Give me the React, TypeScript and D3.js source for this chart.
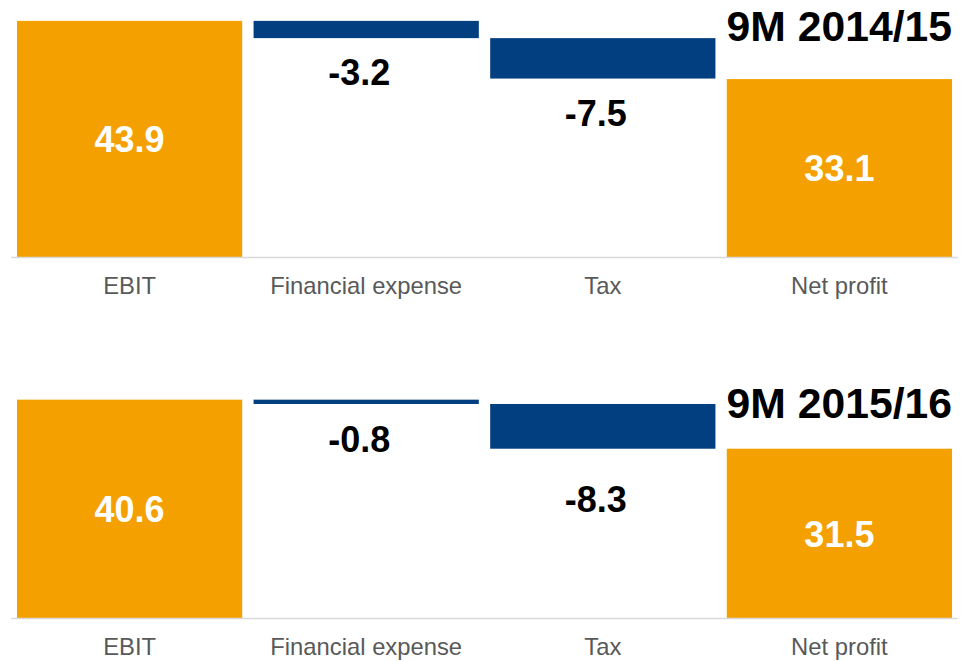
import React from "react";
import * as d3 from "d3";

const categories = ["EBIT", "Financial expense", "Tax", "Net profit"];
const titles = ["9M 2014/15", "9M 2015/16"];
const values2014 = [43.9, -3.2, -7.5, 33.1];
const values2015 = [40.6, -0.8, -8.3, 31.5];
const kinds = ["total", "delta", "delta", "total"];

const series = [values2014, values2015];

// layout / style (not data)
const W = 969;
const H = 661;
const ORANGE = "#F4A000";
const NAVY = "#023F80";
const FONT = "'Liberation Sans', Arial, Helvetica, sans-serif";
const baselines = [257.5, 618.5];
const titleY = [41, 418];
const pxPerUnit = 5.39;
const negGap = [[47, 47], [48, 63]];

export default function App() {
  const x = d3
    .scaleBand<string>()
    .domain(categories)
    .range([11.3, 957.7])
    .paddingInner(0.048)
    .paddingOuter(0.024);

  return (
    <svg
      width={W}
      height={H}
      style={{ position: "absolute", left: 0, top: 0, background: "#fff" }}
    >
      {series.map((vals, p) => {
        const base = baselines[p];
        const y = d3
          .scaleLinear()
          .domain([0, 45])
          .range([base, base - 45 * pxPerUnit]);
        let running = 0;
        const bars = vals.map((v, i) => {
          let y0: number, y1: number;
          if (kinds[i] === "total") {
            y0 = 0;
            y1 = v;
            running = v;
          } else {
            y0 = running + v;
            y1 = running;
            running = running + v;
          }
          return { v, i, lo: Math.min(y0, y1), hi: Math.max(y0, y1) };
        });
        let negIdx = 0;
        return (
          <g key={p}>
            {bars.map((b) => {
              const bx = x(categories[b.i])!;
              const bw = x.bandwidth();
              const top = y(b.hi);
              const bottom = y(b.lo);
              const isTotal = kinds[b.i] === "total";
              let label;
              if (isTotal) {
                label = (
                  <text
                    x={bx + bw / 2}
                    y={(top + bottom) / 2 + 13}
                    textAnchor="middle"
                    fill="#fff"
                    fontFamily={FONT}
                    fontWeight="bold"
                    fontSize={36}
                  >
                    {b.v.toFixed(1)}
                  </text>
                );
              } else {
                const gap = negGap[p][negIdx++];
                label = (
                  <text
                    x={bx + bw / 2 - 7}
                    y={bottom + gap}
                    textAnchor="middle"
                    fill="#000"
                    fontFamily={FONT}
                    fontWeight="bold"
                    fontSize={36}
                  >
                    {b.v.toFixed(1)}
                  </text>
                );
              }
              return (
                <g key={b.i}>
                  <rect
                    x={bx}
                    y={top}
                    width={bw}
                    height={bottom - top}
                    fill={isTotal ? ORANGE : NAVY}
                  />
                  {label}
                  <text
                    x={bx + bw / 2}
                    y={base + 36}
                    textAnchor="middle"
                    fill="#595959"
                    fontFamily={FONT}
                    fontSize={23.8}
                  >
                    {categories[b.i]}
                  </text>
                </g>
              );
            })}
            <line
              x1={x.range()[0]}
              x2={x.range()[1]}
              y1={base}
              y2={base}
              stroke="#D9D9D9"
              strokeWidth={1.5}
            />
            <text
              x={x(categories[3])! + x.bandwidth()}
              y={titleY[p]}
              textAnchor="end"
              fill="#000"
              fontFamily={FONT}
              fontWeight="bold"
              fontSize={42.7}
            >
              {titles[p]}
            </text>
          </g>
        );
      })}
    </svg>
  );
}
